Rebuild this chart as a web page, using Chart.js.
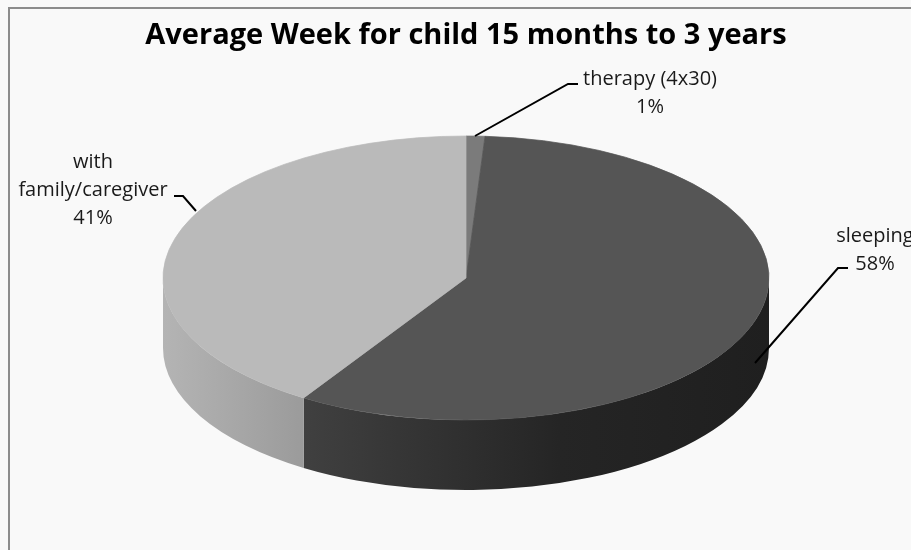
<!DOCTYPE html>
<html>
<head>
<meta charset="utf-8">
<script src="https://cdn.jsdelivr.net/npm/chart.js@4.4.1/dist/chart.umd.min.js"></script>
<style>
  html, body { margin: 0; padding: 0; background: #f9f9f9; }
  #wrap { width: 911px; height: 550px; position: relative; }
</style>
</head>
<body>
<div id="wrap"><canvas id="c"></canvas></div>
<script>
// ---- data ----
const chartTitle = 'Average Week for child 15 months to 3 years';
const categoryLines = [['therapy (4x30)'], ['sleeping'], ['with', 'family/caregiver']];
const categories = categoryLines.map(l => l.join(' '));
const percentValues = [1, 58, 41];

// ---- styles ----
const topColors = ['#7b7b7b', '#555555', '#bababa'];
const sideStops = [
  [[0, '#6c6c6c'], [1, '#5e5e5e']],
  [[0, '#404040'], [0.55, '#252525'], [1, '#1f1f1f']],
  [[0, '#b4b4b4'], [1, '#9b9b9b']]
];
const TILT = 142 / 303;
const DEPTH = 70;
const labelFont = '20px "Open Sans"';
const labelLayout = [
  { x: 650, y: 79, line: [[475, 136], [568, 84], [578, 84]] },
  { x: 875, y: 236, line: [[848, 268], [838, 268], [755, 363]] },
  { x: 93, y: 162, line: [[174, 196], [183, 196], [196, 211]] }
];
const LINE_GAP = 28;

const pie3d = {
  id: 'pie3d',
  beforeDraw(chart) {
    const ctx = chart.ctx;
    ctx.save();
    ctx.fillStyle = '#f9f9f9';
    ctx.fillRect(0, 0, chart.width, chart.height);
    ctx.strokeStyle = '#8c8c8c';
    ctx.lineWidth = 2;
    ctx.beginPath();
    ctx.moveTo(9, chart.height + 2);
    ctx.lineTo(9, 8);
    ctx.lineTo(chart.width + 2, 8);
    ctx.stroke();
    ctx.restore();
  },
  beforeDatasetsDraw(chart) {
    const ctx = chart.ctx;
    const arcs = chart.getDatasetMeta(0).data;
    const cx = arcs[0].x, cy = arcs[0].y, r = arcs[0].outerRadius;
    const ry = r * TILT;
    arcs.forEach((arc, i) => {
      const a0 = Math.max(arc.startAngle, 0);
      const a1 = Math.min(arc.endAngle, Math.PI);
      if (a1 <= a0) return;
      const xA = cx + r * Math.cos(a0), xB = cx + r * Math.cos(a1);
      const g = ctx.createLinearGradient(Math.min(xA, xB), 0, Math.max(xA, xB), 0);
      sideStops[i].forEach(s => g.addColorStop(s[0], s[1]));
      ctx.save();
      ctx.beginPath();
      ctx.ellipse(cx, cy, r, ry, 0, a0, a1, false);
      ctx.lineTo(cx + r * Math.cos(a1), cy + ry * Math.sin(a1) + DEPTH);
      ctx.ellipse(cx, cy + DEPTH, r, ry, 0, a1, a0, true);
      ctx.closePath();
      ctx.fillStyle = g;
      ctx.fill();
      ctx.restore();
    });
    ctx.save();
    ctx.translate(cx, cy);
    ctx.scale(1, TILT);
    ctx.translate(-cx, -cy);
  },
  afterDatasetsDraw(chart) {
    const ctx = chart.ctx;
    ctx.restore();
    ctx.save();
    ctx.strokeStyle = '#000';
    ctx.lineWidth = 2;
    ctx.font = labelFont;
    ctx.fillStyle = '#1a1a1a';
    ctx.textAlign = 'center';
    ctx.textBaseline = 'middle';
    const total = percentValues.reduce((a, b) => a + b, 0);
    labelLayout.forEach((lay, i) => {
      ctx.beginPath();
      lay.line.forEach((p, j) => j ? ctx.lineTo(p[0], p[1]) : ctx.moveTo(p[0], p[1]));
      ctx.stroke();
      const lines = categoryLines[i].concat([Math.round(percentValues[i] / total * 100) + '%']);
      lines.forEach((t, j) => ctx.fillText(t, lay.x, lay.y + j * LINE_GAP));
    });
    ctx.restore();
  }
};

new Chart(document.getElementById('c'), {
  type: 'pie',
  data: {
    labels: categories,
    datasets: [{
      data: percentValues,
      backgroundColor: topColors,
      borderColor: topColors,
      borderWidth: 1,
      clip: false
    }]
  },
  options: {
    responsive: true,
    maintainAspectRatio: false,
    animation: false,
    events: [],
    radius: 303,
    layout: { padding: { left: 21, right: 0, top: 8, bottom: 55 } },
    plugins: {
      legend: { display: false },
      tooltip: { enabled: false },
      title: {
        display: true,
        text: chartTitle,
        color: '#000',
        font: { family: '"Open Sans"', size: 29, weight: 'bold', lineHeight: '32px' },
        padding: { top: 12, bottom: 9 }
      }
    }
  },
  plugins: [pie3d]
});
</script>
</body>
</html>
